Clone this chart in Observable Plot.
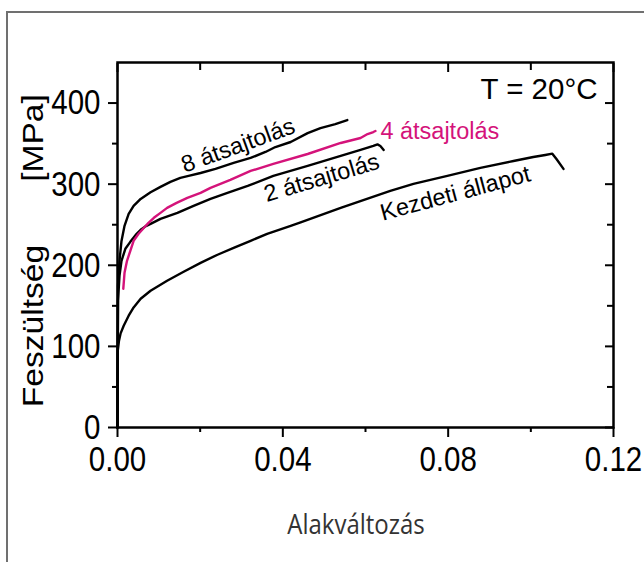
<!DOCTYPE html>
<html><head><meta charset="utf-8">
<script src="https://cdn.jsdelivr.net/npm/d3@7"></script>
<script src="https://cdn.jsdelivr.net/npm/@observablehq/plot@0.6"></script>
<style>
body{margin:0;background:#fff;}
#wrap{position:relative;width:644px;height:562px;overflow:hidden;background:#fff;}
#border{position:absolute;left:6px;top:11px;width:700px;height:700px;border-left:2px solid #707070;border-top:2px solid #707070;}
#wrap svg{position:absolute;left:0;top:0;}
</style></head><body><div id="wrap"><div id="border"></div></div>
<script>
// Series names and colours
const seriesNames = ["Kezdeti állapot", "2 átsajtolás", "4 átsajtolás", "8 átsajtolás"];
const seriesColors = ["#000000", "#000000", "#d4137a", "#000000"];

// Kezdeti állapot (initial state)
const strain0 = [0, 0.00007, 0.00036, 0.00073, 0.0015, 0.0027, 0.0039, 0.0056, 0.0080, 0.0120, 0.0160, 0.0201, 0.0242, 0.0281, 0.0322, 0.0362, 0.0419, 0.0443, 0.0540, 0.0660, 0.0716, 0.0798, 0.0878, 0.0958, 0.1006, 0.1035, 0.1052, 0.1062, 0.1079];
const stress0 = [0, 94.8, 107, 115.7, 125.5, 137.8, 148, 158.8, 168.6, 180.9, 192, 203, 213, 221.5, 230.2, 238.8, 248.6, 253, 270.8, 291.7, 300.3, 310.2, 320, 328.6, 333.5, 336, 337.6, 331, 318.8];

// 2 átsajtolás
const strain2 = [0, 0.00012, 0.00048, 0.00097, 0.0019, 0.0031, 0.0044, 0.0056, 0.0070, 0.0080, 0.0104, 0.0145, 0.0184, 0.0225, 0.0266, 0.0315, 0.0377, 0.0460, 0.0540, 0.0588, 0.0619, 0.0629, 0.0636, 0.0644];
const stress2 = [0, 156.3, 187, 205.5, 220.3, 228.9, 237.5, 243.7, 248.6, 251, 257.2, 264.6, 273.2, 281.8, 289.2, 297.8, 310.2, 322.5, 334.8, 342.2, 347.1, 349, 347.1, 342.2];

// 4 átsajtolás
const strain4 = [0.0014, 0.0017, 0.0023, 0.0031, 0.0039, 0.0051, 0.0064, 0.0075, 0.0088, 0.0104, 0.0120, 0.0143, 0.0169, 0.0201, 0.0225, 0.0273, 0.0322, 0.0377, 0.0460, 0.0540, 0.0588, 0.0605, 0.0619, 0.0624];
const stress4 = [171, 190.8, 205.5, 217.8, 230.2, 238.8, 246.2, 252.3, 258.5, 264.6, 270.8, 276.9, 283.1, 289.2, 295.4, 305.2, 316.3, 324.9, 337.2, 350.8, 356.9, 361.8, 364.3, 365.5];

// 8 átsajtolás
const strain8 = [0, 0.00012, 0.00048, 0.00097, 0.0017, 0.0027, 0.0039, 0.0056, 0.0080, 0.0104, 0.0128, 0.0152, 0.0172, 0.0201, 0.0237, 0.0281, 0.0322, 0.0358, 0.0382, 0.0419, 0.0460, 0.0491, 0.0527, 0.0556];
const stress8 = [0, 174.8, 205.5, 230, 248.6, 263.4, 273.2, 281.8, 290, 296.6, 302.8, 307.7, 310.2, 313.8, 318.8, 326.2, 332.3, 339.7, 345.8, 352, 363, 369.2, 374, 379];

// Axis ticks
const xMajor = [0, 0.04, 0.08, 0.12];
const xMinor = [0.02, 0.06, 0.10];
const yMajor = [0, 100, 200, 300, 400];
const yMinor = [50, 150, 250, 350];

// Curve labels
const labelText = ["8 átsajtolás", "4 átsajtolás", "2 átsajtolás", "Kezdeti állapot"];
const labelX = [0.0163, 0.0636, 0.0361, 0.0642];
const labelY = [314, 355.7, 278, 255];
const labelAngle = [-20, 0, -16.5, -15];
const labelColor = ["#000000", "#d4137a", "#000000", "#000000"];

const xTitle = "Alakváltozás";
const yTitle = "Feszültség";
const yUnit = "[MPa]";
const tempText = "T = 20°C";

const rows = [];
[[strain0, stress0], [strain2, stress2], [strain4, stress4], [strain8, stress8]].forEach(([xs, ys], k) => {
  xs.forEach((x, i) => rows.push({series: seriesNames[k], strain: x, stress: ys[i]}));
});
const labels = labelText.map((t, i) => ({text: t, x: labelX[i], y: labelY[i], angle: labelAngle[i], color: labelColor[i]}));

const FONT = "'Liberation Sans', Arial, sans-serif";
const chart = Plot.plot({
  width: 644, height: 562,
  marginLeft: 117, marginRight: 31, marginTop: 62, marginBottom: 135,
  x: {domain: [0, 0.12]},
  y: {domain: [0, 450]},
  color: {domain: seriesNames, range: seriesColors},
  style: {fontFamily: FONT, background: "transparent", color: "black", overflow: "visible"},
  marks: [
    Plot.line(rows, {x: "strain", y: "stress", z: "series", stroke: "series", strokeWidth: 2.4, curve: "linear"}),
    Plot.frame({stroke: "black", strokeWidth: 2.5}),
    Plot.axisX({ticks: xMajor, tickSize: 10, tickPadding: 8, tickFormat: d3.format(".2f"), fontSize: 29.5, label: null, strokeWidth: 2}),
    Plot.axisX({ticks: xMinor, tickSize: 5, fill: "none", label: null, strokeWidth: 2}),
    Plot.axisX({anchor: "top", ticks: xMajor, tickSize: -9, fill: "none", label: null, strokeWidth: 2}),
    Plot.axisX({anchor: "top", ticks: xMinor, tickSize: -7, fill: "none", label: null, strokeWidth: 2}),
    Plot.axisY({ticks: yMajor, tickSize: 9, tickPadding: 8, tickFormat: d => String(d), fontSize: 29.5, label: null, strokeWidth: 2}),
    Plot.axisY({ticks: yMinor, tickSize: 5, fill: "none", label: null, strokeWidth: 2}),
    Plot.axisY({anchor: "right", ticks: yMajor, tickSize: -9, fill: "none", label: null, strokeWidth: 2}),
    Plot.axisY({anchor: "right", ticks: yMinor, tickSize: -7, fill: "none", label: null, strokeWidth: 2}),
    Plot.text(labels, {x: "x", y: "y", text: "text", rotate: "angle", fill: "color", textAnchor: "start", lineAnchor: "bottom", fontSize: 23.5}),
    Plot.text([tempText], {frameAnchor: "top-right", dx: -16, dy: 36, textAnchor: "end", lineAnchor: "bottom", fontSize: 29.5, ariaLabel: "temp"})
  ]
});

// the reference's lettering is taller than it is wide: stretch tick labels vertically
const svg = d3.select(chart);
svg.selectAll('g[aria-label="x-axis tick label"] text, g[aria-label="y-axis tick label"] text, g[aria-label="temp"] text').each(function() {
  const t = this.getAttribute("transform");
  if (t) this.setAttribute("transform", t + " scale(1,1.2)");
});

svg.append("text").attr("transform", "translate(43,326) rotate(-90) scale(1.12,1)").attr("text-anchor", "middle")
  .attr("font-family", FONT).attr("font-size", 30).attr("fill", "black").text(yTitle);
svg.append("text").attr("transform", "translate(43,138) rotate(-90) scale(1.12,1)").attr("text-anchor", "middle")
  .attr("font-family", FONT).attr("font-size", 30).attr("fill", "black").text(yUnit);
svg.append("text").attr("transform", "translate(356,534) scale(1,1.12)").attr("text-anchor", "middle")
  .attr("font-family", "'Open Sans', sans-serif").attr("font-size", 24).attr("fill", "#333").text(xTitle);

document.getElementById("wrap").appendChild(chart);
</script>
</body></html>
